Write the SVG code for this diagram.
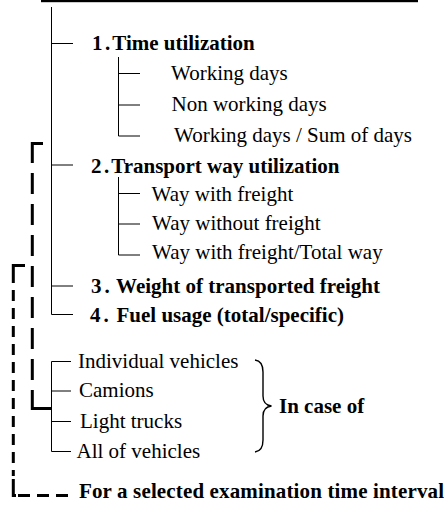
<svg xmlns="http://www.w3.org/2000/svg" width="444" height="511" viewBox="0 0 444 511">
<style>
.t{font-family:"Liberation Serif","Times New Roman",serif;font-size:21px;fill:#000}
.b{font-weight:bold}
.ln{fill:none;stroke:#000;stroke-width:1}
.dk{fill:none;stroke:#000;stroke-width:3}
</style>
<rect x="0" y="0" width="444" height="511" fill="#fff"/>
<g id="connectors">
  <rect x="41" y="0" width="377" height="2.2" fill="#000"/>
  <path class="ln" d="M51.5,7 V314.5 H73 M51.5,43.5 H73 M51.5,165 H73 M51.5,286 H73"/>
  <path class="ln" d="M118.5,57 V136 H140 M118.5,73.5 H140 M118.5,105 H140"/>
  <path class="ln" d="M118.5,177 V255 H140 M118.5,193.5 H140 M118.5,224 H140"/>
  <path class="ln" d="M71,361.5 H51.5 V451.5 H71 M51.5,391 H71 M51.5,421.5 H71"/>
  <path class="dk" d="M43,143.5 H32.3 V163"/>
  <path class="dk" d="M32.3,173 V392" stroke-dasharray="21 10"/>
  <path class="dk" d="M32.3,392 V408.5 H52"/>
  <path class="dk" d="M25,265.5 H13.3 V283"/>
  <path class="dk" d="M13.3,290 V476" stroke-dasharray="11 7"/>
  <path class="dk" d="M13.3,479 V495.5 H16"/>
  <path class="dk" d="M18,495.5 H68" stroke-dasharray="12 7"/>
  <path fill="none" stroke="#000" stroke-width="1.4" d="M255,360 Q263,361 263,372 V396 Q263,405 271.5,406 Q263,407 263,416 V440 Q263,451 255,452"/>
</g>
<g id="n1"><text class="t b" x="92" y="50">1<tspan dx="2.5">.</tspan><tspan dx="2">Time utilization</tspan></text></g>
<g id="n1a"><text class="t" x="171" y="79.5">Working days</text></g>
<g id="n1b"><text class="t" x="171.5" y="111">Non working days</text></g>
<g id="n1c"><text class="t" x="174" y="141.5">Working days / Sum of days</text></g>
<g id="n2"><text class="t b" x="91" y="172.5">2<tspan dx="2.5">.</tspan><tspan dx="2">Transport way utilization</tspan></text></g>
<g id="n2a"><text class="t" x="151.5" y="200.5">Way with freight</text></g>
<g id="n2b"><text class="t" x="152" y="229.5">Way without freight</text></g>
<g id="n2c"><text class="t" x="152" y="259">Way with freight/Total way</text></g>
<g id="n3"><text class="t b" x="91" y="292.5">3<tspan dx="3">.</tspan><tspan dx="1.5"> Weight of transported freight</tspan></text></g>
<g id="n4"><text class="t b" x="90" y="322">4<tspan dx="3">.</tspan><tspan dx="2.5"> Fuel usage (total/specific)</tspan></text></g>
<g id="v1"><text class="t" x="78" y="368">Individual vehicles</text></g>
<g id="v2"><text class="t" x="79" y="397">Camions</text></g>
<g id="v3"><text class="t" x="80" y="428">Light trucks</text></g>
<g id="v4"><text class="t" x="76.5" y="458">All of vehicles</text></g>
<g id="case"><text class="t b" x="279" y="413">In case of</text></g>
<g id="interval"><text class="t b" x="79" y="498" textLength="365" lengthAdjust="spacing">For a selected examination time interval</text></g>
</svg>
